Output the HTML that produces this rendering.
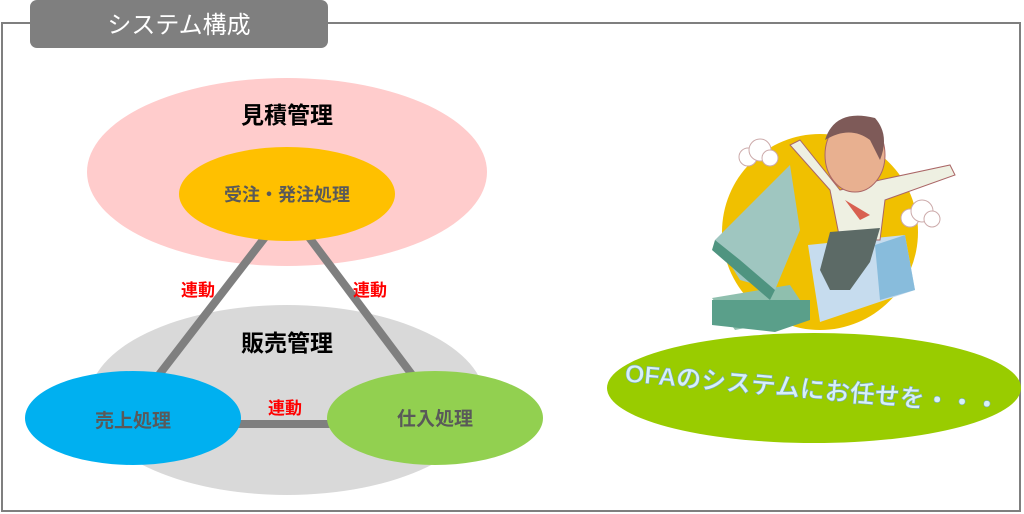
<!DOCTYPE html>
<html><head><meta charset="utf-8"><style>
body{margin:0;width:1024px;height:514px;background:#fff;overflow:hidden;font-family:"Liberation Sans","Noto Sans CJK JP",sans-serif;}
</style></head><body>
<svg width="1024" height="514" viewBox="0 0 1024 514" xmlns="http://www.w3.org/2000/svg" style="position:absolute;left:0;top:0">
<rect x="2" y="23" width="1018" height="488" fill="none" stroke="#7f7f7f" stroke-width="2"/>
<rect x="30" y="0" width="298" height="48" rx="7" fill="#7f7f7f"/>
<text x="179" y="33" font-size="24" fill="#fff" text-anchor="middle" font-family="Liberation Sans, Noto Sans CJK JP, sans-serif">システム構成</text>

<ellipse cx="287" cy="172" rx="200" ry="94" fill="#ffcccc"/>
<ellipse cx="287" cy="400" rx="198" ry="95" fill="#d9d9d9"/>
<g stroke="#7f7f7f" stroke-width="8">
<line x1="266" y1="236" x2="155" y2="380"/>
<line x1="308" y1="236" x2="413" y2="376"/>
<line x1="235" y1="424" x2="335" y2="424"/>
</g>
<ellipse cx="287" cy="194" rx="108" ry="47" fill="#ffc000"/>
<ellipse cx="133" cy="418" rx="108" ry="47" fill="#00b0f0"/>
<ellipse cx="435" cy="418" rx="108" ry="47" fill="#92d050"/>

<g font-family="Liberation Sans, Noto Sans CJK JP, sans-serif" font-weight="bold" text-anchor="middle">
<text x="287" y="123" font-size="23" fill="#000">見積管理</text>
<text x="287" y="351" font-size="23" fill="#000">販売管理</text>
<text x="287" y="201" font-size="18" fill="#595959">受注・発注処理</text>
<text x="133" y="427" font-size="19" fill="#595959">売上処理</text>
<text x="435" y="425" font-size="19" fill="#595959">仕入処理</text>
<text x="198" y="296" font-size="17" fill="#ff0000">連動</text>
<text x="370" y="296" font-size="17" fill="#ff0000">連動</text>
<text x="285" y="414" font-size="17" fill="#ff0000">連動</text>
</g>

<circle cx="820" cy="232" r="98" fill="#f0c000"/>
<path d="M712 298 L790 285 L810 315 L735 330 Z" fill="#8fbfae"/>
<path d="M712 300 L712 325 L775 332 L810 320 L810 300 Z" fill="#5a9f8a"/>
<path d="M715 240 L790 165 L800 230 L775 290 L740 280 Z" fill="#9fc6c0"/>
<path d="M715 240 L740 260 L775 290 L770 300 L712 250 Z" fill="#4f9480"/>
<path d="M808 245 L905 235 L915 290 L820 322 Z" fill="#c6dcee"/>
<path d="M875 245 L905 235 L915 290 L880 300 Z" fill="#88bcdc"/>
<g fill="#fff" stroke="#caa" stroke-width="1">
<circle cx="748" cy="157" r="9"/><circle cx="760" cy="150" r="11"/><circle cx="770" cy="158" r="8"/>
<circle cx="910" cy="218" r="9"/><circle cx="922" cy="211" r="11"/><circle cx="932" cy="219" r="8"/>
</g>
<path d="M800 140 L840 190 L880 180 L950 165 L955 175 L885 200 L880 240 L840 240 L830 190 L790 145 Z" fill="#eef0e2" stroke="#a66" stroke-width="1"/>
<path d="M830 232 L880 228 L870 262 L850 290 L830 290 L820 270 Z" fill="#5c6a66"/>
<path d="M845 200 L870 215 L860 220 Z" fill="#d86050"/>
<ellipse cx="855" cy="155" rx="30" ry="37" fill="#e8b090" stroke="#a66" stroke-width="1"/>
<path d="M825 140 Q835 108 875 118 Q890 135 880 160 L870 140 Q850 125 825 140 Z" fill="#7e5a58"/>

<ellipse cx="814" cy="388" rx="207" ry="55" fill="#99cc00"/>
<text x="812" y="398" font-size="25" font-weight="bold" fill="#d8f0f8" stroke="#7ab" stroke-width="0.6" text-anchor="middle" transform="rotate(5 812 392)" font-family="Liberation Sans, Noto Sans CJK JP, sans-serif" letter-spacing="0">OFAのシステムにお任せを・・・</text>
</svg>
</body></html>
